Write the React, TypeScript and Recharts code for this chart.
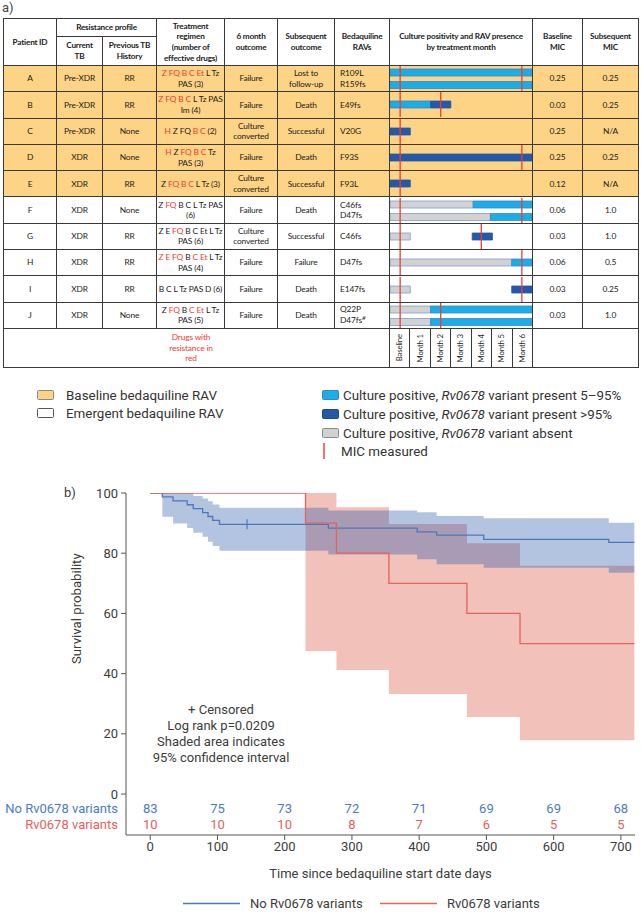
import React from 'react';
import {
  BarChart, Bar, Cell, XAxis, YAxis, ReferenceLine,
  ComposedChart, Line, Area, Scatter,
} from 'recharts';

// ---- table data (part a) ----
const PATIENTS = ['A', 'B', 'C', 'D', 'E', 'F', 'G', 'H', 'I', 'J'];
const CURRENT_TB = ['Pre-XDR', 'Pre-XDR', 'Pre-XDR', 'XDR', 'XDR', 'XDR', 'XDR', 'XDR', 'XDR', 'XDR'];
const PREVIOUS_TB = ['RR', 'RR', 'None', 'None', 'RR', 'None', 'RR', 'RR', 'RR', 'None'];
// regimen lines, each a list of [text, resistant?]
const REGIMENS: [string, boolean][][][] = [
  [[['Z FQ B C Et', true], [' L Tz', false]], [['PAS (3)', false]]],
  [[['Z FQ B C', true], [' L Tz PAS', false]], [['Im (4)', false]]],
  [[['H', true], [' Z FQ ', false], ['B C', true], [' (2)', false]]],
  [[['H', true], [' Z ', false], ['FQ B C', true], [' Tz', false]], [['PAS (3)', false]]],
  [[['Z ', false], ['FQ B C', true], [' L Tz (3)', false]]],
  [[['Z ', false], ['FQ', true], [' B C L Tz PAS', false]], [['(6)', false]]],
  [[['Z E ', false], ['FQ', true], [' B C Et L Tz', false]], [['PAS (6)', false]]],
  [[['Z E FQ', true], [' B ', false], ['C Et', true], [' L Tz', false]], [['PAS (4)', false]]],
  [[['B C L Tz PAS D (6)', false]]],
  [[['Z ', false], ['FQ', true], [' B ', false], ['C Et', true], [' L Tz', false]], [['PAS (5)', false]]],
];
const OUTCOME_6M = ['Failure', 'Failure', 'Culture\nconverted', 'Failure', 'Culture\nconverted', 'Failure', 'Culture\nconverted', 'Failure', 'Failure', 'Failure'];
const OUTCOME_LATER = ['Lost to\nfollow-up', 'Death', 'Successful', 'Death', 'Successful', 'Death', 'Successful', 'Failure', 'Death', 'Death'];
const RAVS = [['R109L', 'R159fs'], ['E49fs'], ['V20G'], ['F93S'], ['F93L'], ['C46fs', 'D47fs'], ['C46fs'], ['D47fs'], ['E147fs'], ['Q22P', 'D47fs#']];
const BASELINE_MIC = ['0.25', '0.03', '0.25', '0.25', '0.12', '0.06', '0.03', '0.06', '0.03', '0.03'];
const SUBSEQ_MIC = ['0.25', '0.25', 'N/A', '0.25', 'N/A', '1.0', '1.0', '0.5', '0.25', '1.0'];
// culture timeline per bar line: [state, months]
const CULTURE: [string, number][][][] = [
  [[['mid', 7]], [['mid', 7]]],
  [[['mid', 2], ['high', 1]]],
  [[['high', 1]]],
  [[['high', 7]]],
  [[['high', 1]]],
  [[['absent', 4.1], ['mid', 2.9]], [['absent', 4.95], ['mid', 2.05]]],
  [[['absent', 1], ['none', 3.05], ['high', 1]]],
  [[['absent', 6], ['mid', 1]]],
  [[['absent', 1], ['none', 5], ['high', 1]]],
  [[['absent', 2], ['mid', 5]], [['absent', 2], ['mid', 5]]],
];
const MIC_MONTH: (number | null)[] = [6, 2, null, 6, null, 6, 4, 6, 6, 2];
const MONTHS = ['Baseline', 'Month 1', 'Month 2', 'Month 3', 'Month 4', 'Month 5', 'Month 6'];

// ---- Kaplan-Meier data (part b) ----
const NO_VAR_TIME = [0, 18, 34, 55, 64, 78, 86, 93, 103, 265, 397, 426, 496, 682, 720];
const NO_VAR_SURV = [100, 98.7, 97.4, 96.1, 94.8, 93.5, 92.2, 90.9, 89.6, 88.3, 87.1, 86.0, 84.6, 83.6, 83.6];
const NO_VAR_LOW = [100, 92.1, 89.9, 88.4, 86.8, 85.5, 83.8, 82.4, 80.8, 79.6, 78.0, 76.3, 75.2, 73.5, 73.5];
const NO_VAR_HIGH = [100, 100, 100, 100, 99.0, 98.2, 97.3, 96.2, 95.1, 94.2, 93.6, 92.4, 91.6, 90.1, 90.1];
const VAR_TIME = [0, 231, 277, 355, 471, 550, 720];
const VAR_SURV = [100, 90, 80, 70, 60, 50, 50];
const VAR_LOW = [100, 47.5, 41.2, 33.2, 25.6, 17.9, 17.9];
const VAR_HIGH = [100, 100, 95.3, 89.7, 83.3, 75.8, 75.8];
const CENSOR_TIME = [144];
const CENSOR_SURV = [89.6];
const RISK_TIME = [0, 100, 200, 300, 400, 500, 600, 700];
const RISK_NO_VAR = [83, 75, 73, 72, 71, 69, 69, 68];
const RISK_VAR = [10, 10, 10, 8, 7, 6, 5, 5];
const X_TICKS = [0, 100, 200, 300, 400, 500, 600, 700];
const Y_TICKS = [0, 20, 40, 60, 80, 100];
const RISK_ROW_Y = [-4.65, -10];

const RED = '#F23A32';
const ORANGE = '#FDD386';
const KM_BLUE = '#4C78BA';
const KM_RED = '#E6625A';
const TXT_BLUE = '#4A7CC4';
const TXT_RED = '#E8605A';
const KM_TEXT = '#3c3c3c';
const F_TABLE = 'Lato, "Noto Sans", sans-serif';
const F_KM = 'Roboto, "Noto Sans", sans-serif';
const KM_FS = 13;

const FILL: Record<string, string> = { mid: '#19AEE8', high: '#2459A8', absent: '#D2D2D2', none: 'transparent' };
const STROKE: Record<string, string> = { mid: '#3C84C6', high: '#2459A8', absent: '#7C9CD0', none: 'none' };

const CultureCell = ({ lines, mic }: { lines: [string, number][][]; mic: number | null }) => {
  const data = lines.map((segs, i) => {
    const d: Record<string, number | string> = { line: String(i) };
    segs.forEach(([, v], k) => { d['s' + k] = v; });
    return d;
  });
  return (
    <BarChart layout="vertical" width={142} height={25} data={data} margin={{ top: 0, right: 0, bottom: 0, left: 0 }}>
      <XAxis type="number" domain={[0, 7]} hide allowDataOverflow />
      <YAxis type="category" dataKey="line" hide />
      {[0, 1, 2].map((k) => (
        <Bar key={k} dataKey={'s' + k} stackId="c" barSize={7} isAnimationActive={false}>
          {lines.map((segs, i) => {
            const st = segs[k] ? segs[k][0] : 'none';
            return <Cell key={i} fill={FILL[st]} stroke={STROKE[st]} strokeWidth={0.8} />;
          })}
        </Bar>
      ))}
      <ReferenceLine x={0.5} stroke={RED} strokeWidth={1.3} />
      {mic != null && <ReferenceLine x={mic + 0.5} stroke={RED} strokeWidth={1.3} />}
    </BarChart>
  );
};

const COL_WIDTHS = [53, 46, 54, 68, 53, 57, 55, 143, 50, 56];
const border = '1px solid #3a3a3a';
const th: React.CSSProperties = {
  border, fontWeight: 700, textAlign: 'center', verticalAlign: 'middle', padding: 0,
  whiteSpace: 'pre', letterSpacing: -0.2, fontSize: 8.2,
};
const td: React.CSSProperties = {
  border, textAlign: 'center', verticalAlign: 'middle', padding: 0, whiteSpace: 'pre', height: 25.3,
};

const ResistanceTable = () => (
  <table style={{
    position: 'absolute', left: 3, top: 18, width: 635, borderCollapse: 'collapse', tableLayout: 'fixed',
    fontFamily: F_TABLE, fontSize: 8.4, letterSpacing: -0.15, lineHeight: '10.6px', color: '#1c1c1c',
  }}>
    <colgroup>{COL_WIDTHS.map((w, i) => <col key={i} style={{ width: w }} />)}</colgroup>
    <thead>
      <tr style={{ height: 18 }}>
        <th rowSpan={2} style={th}>Patient ID</th>
        <th colSpan={2} style={th}>Resistance profile</th>
        <th rowSpan={2} style={th}>{'Treatment\nregimen\n(number of\neffective drugs)'}</th>
        <th rowSpan={2} style={th}>{'6 month\noutcome'}</th>
        <th rowSpan={2} style={th}>{'Subsequent\noutcome'}</th>
        <th rowSpan={2} style={th}>{'Bedaquiline\nRAVs'}</th>
        <th rowSpan={2} style={th}>{'Culture positivity and RAV presence\nby treatment month'}</th>
        <th rowSpan={2} style={th}>{'Baseline\nMIC'}</th>
        <th rowSpan={2} style={th}>{'Subsequent\nMIC'}</th>
      </tr>
      <tr style={{ height: 29 }}>
        <th style={th}>{'Current\nTB'}</th>
        <th style={th}>{'Previous TB\nHistory'}</th>
      </tr>
    </thead>
    <tbody>
      {PATIENTS.map((p, i) => (
        <tr key={p} style={{ background: i < 5 ? ORANGE : '#fff' }}>
          <td style={td}>{p}</td>
          <td style={td}>{CURRENT_TB[i]}</td>
          <td style={td}>{PREVIOUS_TB[i]}</td>
          <td style={td}>
            {REGIMENS[i].map((line, l) => (
              <div key={l}>
                {line.map(([txt, res], k) => (
                  <span key={k} style={{ color: res ? RED : undefined }}>{txt}</span>
                ))}
              </div>
            ))}
          </td>
          <td style={td}>{OUTCOME_6M[i]}</td>
          <td style={td}>{OUTCOME_LATER[i]}</td>
          <td style={{ ...td, textAlign: 'left', paddingLeft: 5 }}>
            {RAVS[i].map((r, k) => (
              <div key={k}>
                {r.replace('#', '')}
                {r.includes('#') && <span style={{ fontSize: 6.5, fontStyle: 'italic', position: 'relative', top: -3 }}>#</span>}
              </div>
            ))}
          </td>
          <td style={{ ...td, padding: 0 }}>
            <CultureCell lines={CULTURE[i]} mic={MIC_MONTH[i]} />
          </td>
          <td style={td}>{BASELINE_MIC[i]}</td>
          <td style={td}>{SUBSEQ_MIC[i]}</td>
        </tr>
      ))}
      <tr style={{ height: 39 }}>
        <td colSpan={7} style={{ ...td, height: 38, textAlign: 'left', padding: 0 }}>
          <div style={{ marginLeft: 152, width: 70, textAlign: 'center', color: RED }}>{'Drugs with\nresistance in\nred'}</div>
        </td>
        <td style={{ ...td, height: 38, padding: 0 }}>
          <div style={{ display: 'flex', height: 38 }}>
            {MONTHS.map((m, k) => (
              <div key={m} style={{
                flex: '1 1 0', borderLeft: k > 0 ? border : 'none', display: 'flex',
                alignItems: 'center', justifyContent: 'center',
              }}>
                <span style={{ writingMode: 'vertical-rl', transform: 'rotate(180deg)', fontSize: 7.8, lineHeight: '9px' }}>{m}</span>
              </div>
            ))}
          </div>
        </td>
        <td colSpan={2} style={{ ...td, height: 38 }} />
      </tr>
    </tbody>
  </table>
);

const LegendBox = ({ fill, stroke, gap }: { fill: string; stroke: string; gap: number }) => (
  <span style={{
    display: 'inline-block', width: 15, height: 8, background: fill, border: `1px solid ${stroke}`,
    borderRadius: 1.5, marginRight: gap, verticalAlign: 'middle', flex: 'none',
  }} />
);

const TopLegend = () => {
  const row: React.CSSProperties = { position: 'absolute', display: 'flex', alignItems: 'center', height: 18, whiteSpace: 'nowrap' };
  return (
    <div style={{ fontFamily: F_KM, fontSize: 13.4, color: '#333' }}>
      <div style={{ ...row, left: 37, top: 386 }}><LegendBox fill={ORANGE} stroke="#8a8a8a" gap={12} />Baseline bedaquiline RAV</div>
      <div style={{ ...row, left: 37, top: 404 }}><LegendBox fill="#fff" stroke="#555" gap={12} />Emergent bedaquiline RAV</div>
      <div style={{ ...row, left: 322, top: 386 }}><LegendBox fill={FILL.mid} stroke={STROKE.mid} gap={4} />Culture positive,&nbsp;<i>Rv0678</i>&nbsp;variant present 5–95%</div>
      <div style={{ ...row, left: 322, top: 405 }}><LegendBox fill={FILL.high} stroke="#1d4a8e" gap={4} />Culture positive,&nbsp;<i>Rv0678</i>&nbsp;variant present &gt;95%</div>
      <div style={{ ...row, left: 322, top: 424 }}><LegendBox fill={FILL.absent} stroke="#8a8a8a" gap={4} />Culture positive,&nbsp;<i>Rv0678</i>&nbsp;variant absent</div>
      <div style={{ ...row, left: 322, top: 442 }}>
        <svg width={19} height={16} style={{ display: 'block' }}>
          <line x1={2} x2={2} y1={0} y2={16} stroke={RED} strokeWidth={1.4} />
        </svg>
        MIC measured
      </div>
    </div>
  );
};

const YTick = (props: any) => {
  const { y, payload } = props;
  const v = payload.value;
  if (v === RISK_ROW_Y[0] || v === RISK_ROW_Y[1]) {
    const first = v === RISK_ROW_Y[0];
    return (
      <text x={118} y={y} dy="0.35em" textAnchor="end" fontSize={KM_FS} fontFamily={F_KM} fill={first ? TXT_BLUE : TXT_RED}>
        {first ? 'No Rv0678 variants' : 'Rv0678 variants'}
      </text>
    );
  }
  return (
    <g>
      <line x1={121} x2={126} y1={y} y2={y} stroke="#555" strokeWidth={1} />
      <text x={118} y={y} dy="0.35em" textAnchor="end" fontSize={KM_FS} fontFamily={F_KM} fill={KM_TEXT}>{v}</text>
    </g>
  );
};

const KMChart = () => {
  const noVar = NO_VAR_TIME.map((t, i) => ({ t, s: NO_VAR_SURV[i], ci: [NO_VAR_LOW[i], NO_VAR_HIGH[i]] }));
  const withVar = VAR_TIME.map((t, i) => ({ t, s: VAR_SURV[i], ci: [VAR_LOW[i], VAR_HIGH[i]] }));
  const censor = CENSOR_TIME.map((t, i) => ({ t, s: CENSOR_SURV[i] }));
  const riskNo = RISK_TIME.map((t, i) => ({ t, s: RISK_ROW_Y[0], n: RISK_NO_VAR[i] }));
  const riskVar = RISK_TIME.map((t, i) => ({ t, s: RISK_ROW_Y[1], n: RISK_VAR[i] }));
  const riskShape = (color: string) => (p: any) => (
    <text x={p.cx} y={p.cy} dy="0.35em" textAnchor="middle" fontSize={KM_FS} fontFamily={F_KM} fill={color}>{p.payload.n}</text>
  );
  return (
    <ComposedChart width={641} height={400} margin={{ top: 13, right: 6, bottom: 0, left: 0 }}>
      <XAxis
        type="number" dataKey="t" domain={[-36, 721]} ticks={X_TICKS} allowDataOverflow interval={0}
        height={45} stroke="#555" tickSize={5}
        tick={{ fill: KM_TEXT, fontSize: KM_FS, fontFamily: F_KM }}
        label={{ value: 'Time since bedaquiline start date days', position: 'insideBottom', offset: 2, fill: KM_TEXT, fontSize: 13, fontFamily: F_KM }}
      />
      <YAxis
        type="number" domain={[-13.6, 100]} ticks={[RISK_ROW_Y[1], RISK_ROW_Y[0], ...Y_TICKS]} allowDataOverflow interval={0}
        width={126} stroke="#555" tickLine={false} tick={<YTick />}
        label={{ value: 'Survival probability', angle: -90, position: 'insideLeft', offset: 76, fill: KM_TEXT, fontSize: 13.2, fontFamily: F_KM }}
      />
      <Area data={withVar} dataKey="ci" type="stepAfter" fill="#F2C1BA" fillOpacity={1} stroke="none" isAnimationActive={false} />
      <Area data={noVar} dataKey="ci" type="stepAfter" fill="#2656A9" fillOpacity={0.35} stroke="none" isAnimationActive={false} />
      <Line data={noVar} dataKey="s" type="stepAfter" stroke={KM_BLUE} strokeWidth={1.3} dot={false} isAnimationActive={false} />
      <Line data={withVar} dataKey="s" type="stepAfter" stroke={KM_RED} strokeWidth={1.3} dot={false} isAnimationActive={false} />
      <Scatter
        data={censor} dataKey="s" isAnimationActive={false}
        shape={(p: any) => <line x1={p.cx} x2={p.cx} y1={p.cy - 5} y2={p.cy + 5} stroke={KM_BLUE} strokeWidth={1.2} />}
      />
      <Scatter data={riskNo} dataKey="s" isAnimationActive={false} shape={riskShape(TXT_BLUE)} />
      <Scatter data={riskVar} dataKey="s" isAnimationActive={false} shape={riskShape(TXT_RED)} />
    </ComposedChart>
  );
};

const App = () => (
  <div style={{ position: 'absolute', left: 0, top: 0, width: 641, height: 912, background: '#fff', overflow: 'hidden' }}>
    <div style={{ position: 'absolute', left: 2, top: 0, fontFamily: F_KM, fontSize: 13, color: '#444' }}>a)</div>
    <ResistanceTable />
    <TopLegend />
    <div style={{ position: 'absolute', left: 0, top: 480 }}>
      <KMChart />
    </div>
    <div style={{ position: 'absolute', left: 64, top: 485, fontFamily: F_KM, fontSize: 13, color: KM_TEXT }}>b)</div>
    <div style={{
      position: 'absolute', left: 141, top: 702, width: 160, textAlign: 'center',
      fontFamily: F_KM, fontSize: 13, lineHeight: '16px', color: KM_TEXT,
    }}>
      + Censored<br />Log rank p=0.0209<br />Shaded area indicates<br />95% confidence interval
    </div>
    <svg style={{ position: 'absolute', left: 0, top: 895 }} width={641} height={17}>
      <line x1={183} x2={240} y1={8.5} y2={8.5} stroke={KM_BLUE} strokeWidth={1.3} />
      <text x={250} y={8.5} dy="0.35em" fontSize={13} fontFamily={F_KM} fill={KM_TEXT}>No Rv0678 variants</text>
      <line x1={380} x2={437} y1={8.5} y2={8.5} stroke={KM_RED} strokeWidth={1.3} />
      <text x={447} y={8.5} dy="0.35em" fontSize={13} fontFamily={F_KM} fill={KM_TEXT}>Rv0678 variants</text>
    </svg>
  </div>
);

export default App;
